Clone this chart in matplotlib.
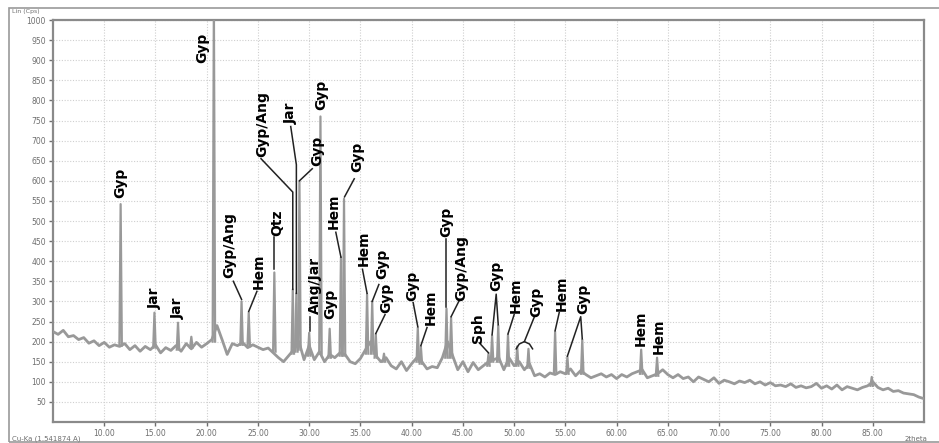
import numpy as np
import matplotlib
matplotlib.use("Agg")
import matplotlib.pyplot as plt
from matplotlib.patches import Rectangle

# background of the scan, 2theta = 5.0 .. 90.0 every 0.5 deg (counts)
bg_counts = [225, 218, 228, 212, 215, 205, 210, 196, 202, 190,   # 5.0 - 9.5
             198, 186, 192, 188, 195, 180, 190, 176, 188, 180,   # 10.0 - 14.5
             192, 172, 185, 178, 190, 176, 195, 182, 198, 186,   # 15.0 - 19.5
             195, 205, 240, 205, 168, 195, 190, 198, 185, 192,   # 20.0 - 24.5
             186, 180, 184, 172, 160, 150, 165, 180, 200, 155,   # 25.0 - 29.5
             190, 155, 175, 150, 168, 160, 172, 168, 150, 145,   # 30.0 - 34.5
             158, 180, 200, 165, 150, 160, 140, 132, 150, 128,   # 35.0 - 39.5
             145, 160, 150, 132, 138, 135, 160, 200, 165, 130,   # 40.0 - 44.5
             150, 125, 148, 130, 140, 150, 155, 160, 130, 160,   # 45.0 - 49.5
             140, 150, 130, 145, 115, 120, 112, 122, 118, 125,   # 50.0 - 54.5
             120, 132, 115, 128, 118, 110, 115, 120, 112, 118,   # 55.0 - 59.5
             108, 118, 112, 120, 125, 130, 110, 115, 120, 130,   # 60.0 - 64.5
             118, 110, 118, 108, 112, 100, 112, 106, 100, 110,   # 65.0 - 69.5
             96, 104, 100, 95, 102, 98, 104, 95, 100, 92,        # 70.0 - 74.5
             98, 90, 92, 88, 95, 86, 90, 85, 88, 96,             # 75.0 - 79.5
             84, 90, 82, 92, 80, 88, 84, 80, 86, 90,             # 80.0 - 84.5
             100, 86, 80, 84, 76, 78, 72, 70, 68, 62,            # 85.0 - 89.5
             58]                                                 # 90.0
bg_theta = 5.0 + 0.5 * np.arange(len(bg_counts))

# reflections: position (2theta), top count, foot count
pk_theta = [11.6, 14.9, 17.2, 18.5, 20.7, 23.4, 24.1, 26.6, 28.4, 28.75, 29.05,
            30.0, 31.1, 32.0, 33.1, 33.4, 35.65, 36.15, 36.5, 37.3, 40.6, 40.9,
            43.4, 43.85, 47.5, 47.85, 48.45, 49.4, 50.3, 51.4, 54.0, 55.2, 56.65,
            62.4, 63.95, 84.9]
pk_top = [542, 272, 247, 212, 1050, 300, 272, 372, 330, 320, 598,
          222, 760, 232, 410, 555, 318, 300, 218, 170, 235, 188,
          282, 260, 170, 215, 240, 217, 188, 182, 225, 162, 205,
          180, 160, 112]
pk_foot = [190, 185, 180, 185, 200, 192, 188, 175, 170, 175, 180,
           165, 170, 160, 165, 165, 170, 170, 160, 150, 150, 145,
           160, 160, 140, 150, 150, 140, 140, 135, 120, 120, 120,
           120, 115, 90]

# phase labels: text, x of label, y of label bottom, leader line (x list, y list)
labels = [
    ("Gyp", 11.6, 556, None),
    ("Jar", 14.9, 282, None),
    ("Jar", 17.2, 257, None),
    ("Gyp", 19.6, 892, None),
    ("Gyp/Ang", 22.2, 358, ([22.6, 23.4], [350, 305])),
    ("Hem", 25.1, 330, ([24.9, 24.1], [325, 275])),
    ("Qtz", 26.9, 462, ([26.6, 26.6], [460, 380])),
    ("Gyp/Ang", 25.4, 660, ([25.3, 28.4, 28.4], [655, 572, 330])),
    ("Jar", 28.2, 742, ([28.2, 28.75, 28.75], [735, 640, 320])),
    ("Gyp", 30.8, 637, ([30.3, 29.05], [630, 600])),
    ("Gyp", 31.2, 775, None),
    ("Ang/Jar", 30.6, 268, ([30.05, 30.05], [262, 226])),
    ("Gyp", 32.1, 255, None),
    ("Hem", 32.4, 480, ([32.6, 33.1], [472, 410])),
    ("Gyp", 34.7, 622, ([34.4, 33.45], [605, 560])),
    ("Hem", 35.3, 388, ([35.2, 35.65], [380, 320])),
    ("Gyp", 37.1, 355, ([36.8, 36.15], [342, 300])),
    ("Gyp", 37.5, 272, ([37.4, 36.5], [267, 220])),
    ("Gyp", 40.05, 300, ([40.15, 40.6], [297, 237])),
    ("Hem", 41.9, 242, ([41.5, 40.9], [235, 190])),
    ("Gyp", 43.4, 460, ([43.4, 43.4], [455, 285])),
    ("Gyp/Ang", 44.8, 300, ([44.6, 43.85], [300, 262])),
    ("Sph", 46.5, 197, ([46.6, 47.5], [197, 172])),
    ("Gyp", 48.3, 325, ([47.85, 48.25, 48.45], [217, 318, 242])),
    ("Hem", 50.2, 272, ([50.0, 49.4], [267, 219])),
    ("Gyp", 52.2, 262, ([51.95, 51.0], [260, 200])),
    ("Hem", 54.6, 275, ([54.4, 54.0], [272, 227])),
    ("Gyp", 56.7, 268, ([55.2, 56.5, 56.65], [164, 262, 207])),
    ("Hem", 62.4, 188, None),
    ("Hem", 64.1, 168, None),
]
brace_x = [50.2, 50.5, 51.0, 51.5, 51.8]
brace_y = [182, 194, 200, 194, 182]

x_ticks = np.arange(10, 86, 5)
y_ticks = np.arange(50, 1001, 50)

fig = plt.figure(figsize=(9.39, 4.43), dpi=100)
fig.patches.append(Rectangle((9 / 939, 0.002), 0.997, 1 - 9 / 443, transform=fig.transFigure,
                             fill=False, edgecolor="#9a9a9a", linewidth=1.2))
ax = fig.add_axes([53 / 939, 1 - 422 / 443, (924 - 53) / 939, (422 - 20) / 443])

trace = "#999999"
ax.plot(bg_theta, bg_counts, color=trace, linewidth=2.0, zorder=3)
for p, t, f in zip(pk_theta, pk_top, pk_foot):
    ax.plot([p - 0.12, p, p + 0.12], [f, t, f], color=trace, linewidth=1.6, zorder=3)

for txt, lx, ly, lead in labels:
    ax.text(lx, ly, txt, rotation=90, ha="center", va="bottom", fontsize=10,
            fontweight="bold", color="black", zorder=5)
    if lead is not None:
        ax.plot(lead[0], lead[1], color="#222222", linewidth=1.1, zorder=4)
ax.plot(brace_x, brace_y, color="#222222", linewidth=1.1, zorder=4)

ax.set_xlim(5, 90)
ax.set_ylim(0, 1000)
ax.set_xticks(x_ticks)
ax.set_xticklabels([f"{v:.2f}" for v in x_ticks])
ax.set_yticks(y_ticks)
ax.set_yticklabels([str(v) for v in y_ticks])
ax.tick_params(labelsize=5.5, colors="#6e6e6e", length=3, width=1, pad=2)
ax.grid(True, linestyle=(0, (1, 1.5)), color="#cfcfcf", linewidth=0.8)
ax.set_axisbelow(True)
for s in ax.spines.values():
    s.set_color("#8a8a8a")
    s.set_linewidth(1.6)

fig.text(12 / 939, 1 - 12 / 443, "Lin (Cps)", fontsize=4.5, color="#6e6e6e", va="center")
fig.text(12 / 939, 1 - 439 / 443, "Cu-Ka (1.541874 A)", fontsize=5, color="#6e6e6e", va="center")
fig.text(905 / 939, 1 - 439 / 443, "2theta", fontsize=5, color="#6e6e6e", va="center")

fig.savefig("out.png", dpi=100)
